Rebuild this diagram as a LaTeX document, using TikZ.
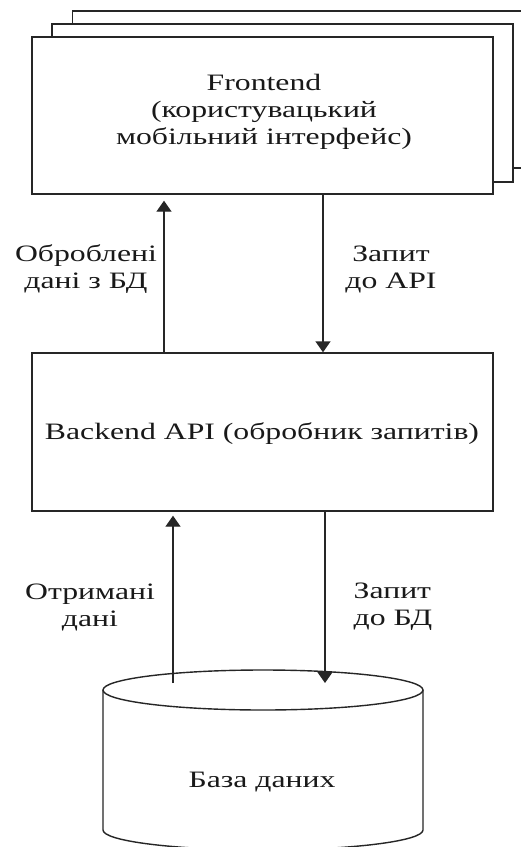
\documentclass[tikz,border=0pt]{standalone}
\usepackage{fontspec}
\setmainfont[FakeStretch=1.35]{Liberation Serif}
\usetikzlibrary{arrows.meta}
\tikzset{
  box/.style={draw=black!85, line width=1.4pt, fill=white, minimum width=461pt, inner sep=0pt},
  lbl/.style={align=center, inner sep=0pt, text=black!90, font=\fontsize{23.5}{27}\selectfont},
  arr/.style={draw=black!85, line width=1.4pt, -{Triangle[length=11pt,width=15pt]}},
  cyl/.style={draw=black!85, line width=1.4pt}
}
\begin{document}
\begin{tikzpicture}[x=1pt,y=-1pt]
\clip (0,0) rectangle (521,847);
\fill[white] (0,0) rectangle (521,847);
% stacked frontend boxes
\node[box, minimum height=157pt] (fb3) at (303,89.5) {};
\node[box, minimum height=158pt] (fb2) at (282.5,103) {};
\node[box, minimum height=157pt] (fe) at (262.5,115.5) {};
\node[lbl] (fet) at (264,112) {Frontend\\(користувацький\\мобільний інтерфейс)};
% backend
\node[box, minimum height=158pt] (be) at (262.5,432) {};
\node[lbl] (bet) at (262,434) {Backend API (обробник запитів)};
% cylinder
\draw[cyl] (103,690) -- (103,830) arc[start angle=180, end angle=360, x radius=160pt, y radius=20pt] -- (423,690);
\draw[cyl] (263,690) ellipse [x radius=160pt, y radius=20pt];
\node[lbl] (db) at (262,782) {База даних};
\coordinate (dbtop) at (263,690);
% connector columns
\coordinate (c1) at (164,0);
\coordinate (c2) at (323,0);
\coordinate (c3) at (173,0);
\coordinate (c4) at (325,0);
\draw[arr] (c1 |- be.north) -- ([yshift=-6pt]c1 |- fe.south);
\draw[arr] (c2 |- fe.south) -- (c2 |- be.north);
\draw[arr] ([yshift=7pt]c3 |- dbtop) -- ([yshift=-4pt]c3 |- be.south);
\draw[arr] (c4 |- be.south) -- ([yshift=7pt]c4 |- dbtop);
% labels
\node[lbl] (l1) at (86,269) {Оброблені\\дані з БД};
\node[lbl] (l2) at (391,269) {Запит\\до API};
\node[lbl] (l3) at (90,607) {Отримані\\дані};
\node[lbl, align=left] (l4) at (393,607) {Запит\\до БД};
\end{tikzpicture}
\end{document}
